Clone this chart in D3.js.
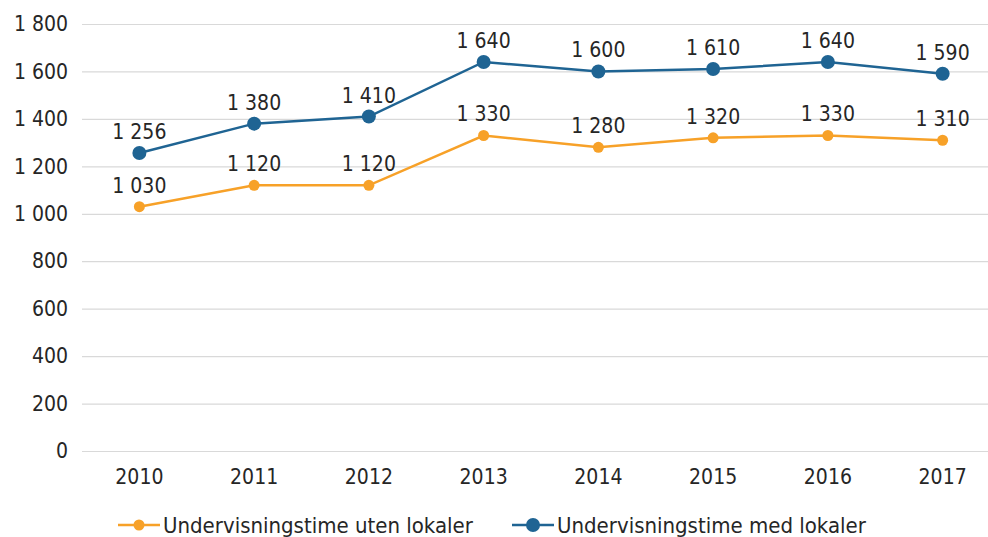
<!DOCTYPE html>
<html>
<head>
<meta charset="utf-8">
<script src="https://cdn.jsdelivr.net/npm/d3@7"></script>
<style>
  body { margin: 0; background: #fff; }
  text { font-family: "DejaVu Sans Condensed", "DejaVu Sans", sans-serif; fill: #262626; }
</style>
</head>
<body>
<svg id="chart"></svg>
<script>
// Data
const years = ["2010", "2011", "2012", "2013", "2014", "2015", "2016", "2017"]
const utenLokaler = [1030, 1120, 1120, 1330, 1280, 1320, 1330, 1310]
const medLokaler = [1256, 1380, 1410, 1640, 1600, 1610, 1640, 1590]
const yTicks = [0, 200, 400, 600, 800, 1000, 1200, 1400, 1600, 1800]

const series = [
    {name: "Undervisningstime uten lokaler", values: utenLokaler, color: "#f7a128", r: 5.5},
    {name: "Undervisningstime med lokaler", values: medLokaler, color: "#1f6493", r: 7}
]

const width = 988
const height = 537
const fontFamily = "DejaVu Sans Condensed, DejaVu Sans, sans-serif"

const svg = d3.select("#chart")
    .attr("width", width)
    .attr("height", height)

// Format numbers with a space as thousands separator
const fmt = (v) => d3.format(",")(v).replace(/,/g, " ")

const xScale = d3.scaleBand()
    .domain(years)
    .range([82, 1000])

const yScale = d3.scaleLinear()
    .domain([0, 1800])
    .range([451, 24])

// Gridlines
svg.append("g")
    .selectAll("line")
    .data(yTicks)
    .enter()
    .append("line")
    .attr("x1", 82)
    .attr("x2", width)
    .attr("y1", (d) => yScale(d) + 0.5)
    .attr("y2", (d) => yScale(d) + 0.5)
    .attr("stroke", "#d9d9d9")
    .attr("stroke-width", 1.2)

// Y axis labels
const yAxis = d3.axisLeft(yScale)
    .tickValues(yTicks)
    .tickFormat(fmt)
    .tickSize(0)
    .tickPadding(0)

svg.append("g")
    .attr("transform", "translate(68,0)")
    .call(yAxis)
    .call((g) => g.select(".domain").remove())
    .selectAll("text")
    .attr("font-size", "21px")
    .attr("font-family", fontFamily)
    .attr("fill", "#262626")

// X axis labels
const xAxis = d3.axisBottom(xScale)
    .tickSize(0)
    .tickPadding(0)

svg.append("g")
    .attr("transform", "translate(0,469)")
    .call(xAxis)
    .call((g) => g.select(".domain").remove())
    .selectAll("text")
    .attr("font-size", "21px")
    .attr("font-family", fontFamily)
    .attr("fill", "#262626")

const cx = (i) => xScale(years[i]) + xScale.bandwidth() / 2

const line = d3.line()
    .x((d, i) => cx(i))
    .y((d) => yScale(d))

series.forEach((s) => {
    svg.append("path")
        .datum(s.values)
        .attr("d", line)
        .attr("fill", "none")
        .attr("stroke", s.color)
        .attr("stroke-width", 2.5)

    svg.append("g")
        .selectAll("circle")
        .data(s.values)
        .enter()
        .append("circle")
        .attr("cx", (d, i) => cx(i))
        .attr("cy", (d) => yScale(d))
        .attr("r", s.r)
        .attr("fill", s.color)

    svg.append("g")
        .selectAll("text")
        .data(s.values)
        .enter()
        .append("text")
        .attr("x", (d, i) => cx(i))
        .attr("y", (d) => yScale(d) - 14)
        .attr("text-anchor", "middle")
        .attr("font-size", "21px")
        .text(fmt)
})

// Legend
const legend = svg.append("g")
    .attr("transform", "translate(0,525)")

const legendX = [118, 512]
series.forEach((s, i) => {
    const g = legend.append("g").attr("transform", "translate(" + legendX[i] + ",0)")
    g.append("line")
        .attr("x1", 0)
        .attr("x2", 42)
        .attr("stroke", s.color)
        .attr("stroke-width", 2.5)
    g.append("circle")
        .attr("cx", 21)
        .attr("r", s.r)
        .attr("fill", s.color)
    g.append("text")
        .attr("x", 45)
        .attr("dy", "0.35em")
        .attr("font-size", "22px")
        .text(s.name)
})
</script>
</body>
</html>
